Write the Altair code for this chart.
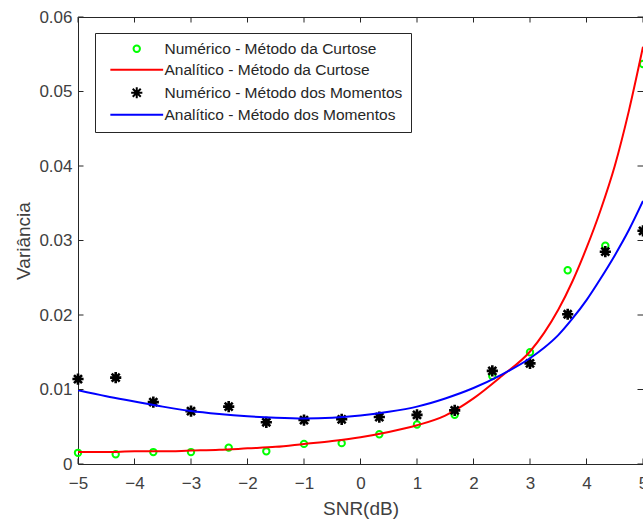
import altair as alt
import pandas as pd

# ---------------- data ----------------
snr_num = [-5, -4.333, -3.667, -3, -2.333, -1.667, -1, -0.333, 0.333, 1, 1.667, 2.333, 3, 3.667, 4.333, 5]
var_curtose_num = [0.0015, 0.0013, 0.0016, 0.0016, 0.0022, 0.0017, 0.0027, 0.0028, 0.0040, 0.0053,
                   0.0066, 0.0118, 0.0150, 0.0260, 0.0293, 0.0537]
var_momentos_num = [0.0114, 0.0116, 0.0083, 0.0071, 0.0077, 0.0056, 0.0059, 0.0060, 0.0063, 0.0066,
                    0.0072, 0.0125, 0.0135, 0.0201, 0.0285, 0.0313]

snr_curve = [-5, -4.5, -4, -3.5, -3, -2.5, -2, -1.5, -1, -0.5, 0, 0.5, 1, 1.5, 2, 2.5,
             3, 3.25, 3.5, 3.75, 4, 4.25, 4.5, 4.75, 5]
var_curtose_ana = [0.0016, 0.0016, 0.0017, 0.0017, 0.0018, 0.0019, 0.0021, 0.0023, 0.0027, 0.0031, 0.0036,
                   0.0043, 0.0052, 0.0065, 0.0088, 0.0118,
                   0.0151, 0.0176, 0.0207, 0.0245, 0.0290, 0.0341, 0.0400, 0.0474, 0.0560]
var_momentos_ana = [0.0099, 0.0091, 0.0084, 0.0077, 0.0071, 0.0067, 0.0064, 0.0062, 0.0061, 0.0062, 0.0065,
                    0.0070, 0.0077, 0.0088, 0.0102, 0.0120,
                    0.0142, 0.0156, 0.0173, 0.0195, 0.0220, 0.0249, 0.0280, 0.0314, 0.0353]

x_ticks = [-5, -4, -3, -2, -1, 0, 1, 2, 3, 4, 5]
y_ticks = [0, 0.01, 0.02, 0.03, 0.04, 0.05, 0.06]

series = ["Numérico - Método da Curtose", "Analítico - Método da Curtose",
          "Numérico - Método dos Momentos", "Analítico - Método dos Momentos"]
colors = ["#00ff00", "#ff0000", "#000000", "#0000ff"]

# ---------------- styling ----------------
FONT = "Liberation Sans"
W, H = 565, 447
TICK = 5.5
AX = "#262626"

circle_path = "M0.8,0A0.8,0.8,0,1,1,-0.8,0A0.8,0.8,0,1,1,0.8,0Z"
star_path = "M-1.4,0L1.4,0M0,-1.4L0,1.4M-1,-1L1,1M-1,1L1,-1"
line_path = "M-6.6,0L6.6,0"
shapes = [circle_path, line_path, star_path, line_path]

xscale = alt.Scale(domain=[-5, 5], nice=False, zero=False)
yscale = alt.Scale(domain=[0, 0.06], nice=False, zero=False)

xaxis = alt.Axis(values=x_ticks, grid=False, domain=False, ticks=False, tickSize=0,
                 labelFont=FONT, labelFontSize=17, labelColor="#404040", labelPadding=11,
                 labelFlush=False, labelOverlap=False,
                 titleFont=FONT, titleFontSize=19, titleFontWeight="normal", titleColor="#404040",
                 titleY=50, titleBaseline="alphabetic")
yaxis = alt.Axis(values=y_ticks, grid=False, domain=False, ticks=False, tickSize=0,
                 labelExpr="datum.value == 0 ? '0' : format(datum.value, '.2f')",
                 labelFont=FONT, labelFontSize=17, labelColor="#404040", labelPadding=6,
                 labelFlush=False, labelOverlap=False,
                 titleFont=FONT, titleFontSize=19, titleFontWeight="normal", titleColor="#404040",
                 titleAngle=270, titleX=-49, titleY=H / 2, titleAlign="center",
                 titleBaseline="alphabetic")

legend = alt.Legend(title=None, orient="none", legendX=17, legendY=16,
                    labelFont=FONT, labelFontSize=15.5, labelColor="#262626", labelLimit=400,
                    symbolSize=64, symbolStrokeWidth=2, symbolOffset=26, labelOffset=20,
                    rowPadding=4, padding=8, strokeColor=AX, fillColor="white")

# ---------------- tables ----------------
pts = pd.DataFrame({
    "snr": snr_num + snr_num,
    "var": var_curtose_num + var_momentos_num,
    "serie": [series[0]] * len(snr_num) + [series[2]] * len(snr_num),
})
curves = pd.DataFrame({
    "snr": snr_curve + snr_curve,
    "var": var_curtose_ana + var_momentos_ana,
    "serie": [series[1]] * len(snr_curve) + [series[3]] * len(snr_curve),
})
xt = pd.DataFrame({"snr": x_ticks})
yt = pd.DataFrame({"var": y_ticks})

X = alt.X("snr:Q", scale=xscale, axis=xaxis, title="SNR(dB)")
Y = alt.Y("var:Q", scale=yscale, axis=yaxis, title="Variância")
color_enc = alt.Color("serie:N", scale=alt.Scale(domain=series, range=colors), legend=legend)
shape_enc = alt.Shape("serie:N", scale=alt.Scale(domain=series, range=shapes), legend=legend)


def points(name, sw):
    return alt.Chart(pts).transform_filter(alt.datum.serie == name).mark_point(
        filled=False, strokeWidth=sw, size=64, opacity=1, clip=False
    ).encode(x=X, y=Y, color=color_enc, shape=shape_enc)


def curve(name, col):
    return alt.Chart(curves).transform_filter(alt.datum.serie == name).mark_line(
        color=col, strokeWidth=2, interpolate="monotone", clip=True
    ).encode(x=X, y=Y)


tick_bottom = alt.Chart(xt).mark_rule(color=AX, strokeWidth=1).encode(
    x=X, y=alt.value(H), y2=alt.value(H - TICK))
tick_top = alt.Chart(xt).mark_rule(color=AX, strokeWidth=1).encode(
    x=X, y=alt.value(0), y2=alt.value(TICK))
tick_left = alt.Chart(yt).mark_rule(color=AX, strokeWidth=1).encode(
    y=Y, x=alt.value(0), x2=alt.value(TICK))
tick_right = alt.Chart(yt).mark_rule(color=AX, strokeWidth=1).encode(
    y=Y, x=alt.value(W), x2=alt.value(W - TICK))

chart = alt.layer(
    points(series[0], 2),
    curve(series[1], colors[1]),
    points(series[2], 2.6),
    curve(series[3], colors[3]),
    tick_bottom, tick_top, tick_left, tick_right,
).properties(
    width=W, height=H,
    padding={"left": 78, "top": 17, "right": 0, "bottom": 56},
    autosize=alt.AutoSizeParams(type="none"),
    background="white",
).configure_view(stroke=AX, strokeWidth=1)

chart.save("out.html", embed_options={"renderer": "svg", "actions": False})
